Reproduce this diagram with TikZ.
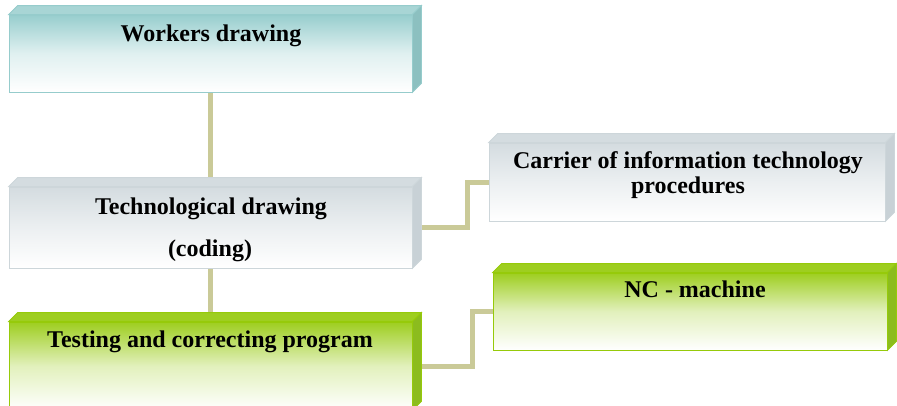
\documentclass[tikz,border=0pt]{standalone}
\usepackage{fontspec}
\setmainfont{Liberation Serif}
\usetikzlibrary{calc}
\definecolor{tealT}{RGB}{152,206,206}
\definecolor{tealS}{RGB}{140,192,192}
\definecolor{tealB}{RGB}{150,204,204}
\definecolor{grayT}{RGB}{212,220,224}
\definecolor{grayS}{RGB}{200,209,214}
\definecolor{grayB}{RGB}{205,214,218}
\definecolor{greenT}{RGB}{158,206,32}
\definecolor{greenS}{RGB}{140,188,30}
\definecolor{greenB}{RGB}{150,202,10}
\definecolor{link}{RGB}{202,202,152}
\newcommand{\faces}[4]{%
  \fill[#2,draw=#4,line width=0.8pt] (#1.north west) -- ++(9,-9) -- ($(#1.north east)+(9,-9)$) -- (#1.north east) -- cycle;
  \fill[#3,draw=#4,line width=0.8pt] (#1.north east) -- ++(9,-9) -- ($(#1.south east)+(9,-9)$) -- (#1.south east) -- cycle;
}
\begin{document}
\begin{tikzpicture}[x=1pt,y=-1pt,
  box/.style={draw, line width=0.8pt, inner sep=0pt, minimum width=#1},
  tealbox/.style={box=403pt, draw=tealB, top color=tealT, bottom color=white, middle color=tealT!30},
  graybox/.style={draw=grayB, top color=grayT, bottom color=white, middle color=grayT!45},
  greenbox/.style={draw=greenB, top color=greenT, bottom color=white, middle color=greenT!30},
  lbl/.style={font=\bfseries\fontsize{24pt}{26pt}\selectfont, anchor=base, inner sep=0pt, align=center},
  conn/.style={draw=link, line width=5pt}]
\useasboundingbox (0,0) rectangle (897,405);
\clip (0,0) rectangle (897,405);
% boxes (front faces, placed first to get anchors)
\node[tealbox, minimum height=77pt] (A) at (210.5,53.5) {};
\node[box=403pt, graybox, minimum height=81pt] (B) at (210.5,227.5) {};
\node[box=403pt, greenbox, minimum height=88pt] (C) at (210.5,366) {};
\node[box=396pt, graybox, minimum height=78pt] (D) at (687,182) {};
\node[box=394pt, greenbox, minimum height=77pt] (E) at (690,311.5) {};
% connectors
\path[conn] (A.south) -- (B.north);
\path[conn] (B.south) -- (C.north);
\path[conn] (B.east) -- ++(55,0) |- (D.west);
\path[conn] (C.east) -- ++(60,0) |- (E.west);
% redraw fronts over connectors
\node[tealbox, minimum height=77pt] at (A) {};
\node[box=403pt, graybox, minimum height=81pt] at (B) {};
\node[box=403pt, greenbox, minimum height=88pt] at (C) {};
\node[box=396pt, graybox, minimum height=78pt] at (D) {};
\node[box=394pt, greenbox, minimum height=77pt] at (E) {};
\faces{A}{tealT!85}{tealS}{tealB}
\faces{B}{grayT}{grayS}{grayB}
\faces{C}{greenT}{greenS}{greenB}
\faces{D}{grayT}{grayS}{grayB}
\faces{E}{greenT}{greenS}{greenB}
% labels
\node[lbl] (tA) at (211,41) {Workers drawing};
\node[lbl] (tB1) at (211,214) {Technological drawing};
\node[lbl] (tB2) at (210,256) {(coding)};
\node[lbl] (tC) at (210,347) {Testing and correcting program};
\node[lbl] (tD1) at (688,168) {Carrier of information technology};
\node[lbl] (tD2) at (688,193) {procedures};
\node[lbl] (tE) at (695,297) {NC - machine};
\end{tikzpicture}
\end{document}
